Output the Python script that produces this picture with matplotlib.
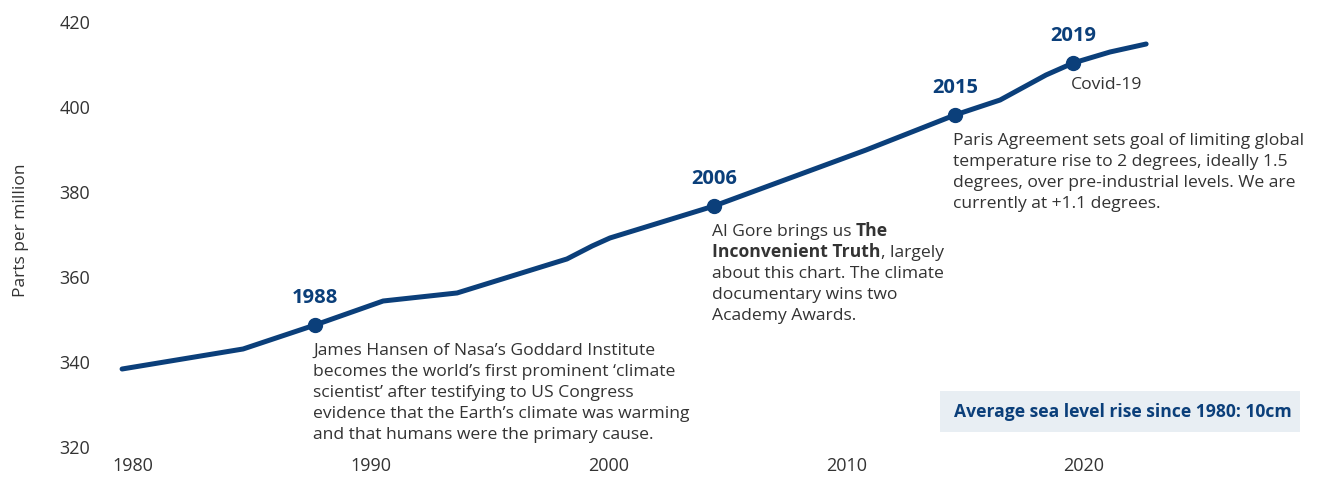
import matplotlib.pyplot as plt
from matplotlib.patches import Rectangle

# CO2 concentration
years = [1979.54, 1984.63, 1987.66, 1990.52, 1993.63, 1998.25, 1999.31, 2000.06,
         2004.44, 2010.83, 2014.57, 2016.47, 2018.40, 2019.54, 2021.09, 2022.61]
ppm = [338.35, 343.06, 348.71, 354.35, 356.24, 364.24, 367.29, 369.18,
       376.71, 389.88, 398.12, 401.65, 407.53, 410.35, 412.94, 414.82]

# highlighted events
event_x = [1987.66, 2004.44, 2014.57, 2019.54]
event_y = [348.71, 376.71, 398.12, 410.35]
event_labels = ["1988", "2006", "2015", "2019"]
event_notes = [
    "James Hansen of Nasa\u2019s Goddard Institute\nbecomes the world\u2019s first prominent \u2018climate\n"
    "scientist\u2019 after testifying to US Congress\nevidence that the Earth\u2019s climate was warming\n"
    "and that humans were the primary cause.",
    None,
    "Paris Agreement sets goal of limiting global\ntemperature rise to 2 degrees, ideally 1.5\n"
    "degrees, over pre-industrial levels. We are\ncurrently at +1.1 degrees.",
    "Covid-19",
]

x_ticks = [1980, 1990, 2000, 2010, 2020]
y_ticks = [320, 340, 360, 380, 400, 420]

navy = "#0b3f7a"
grey = "#333333"
plt.rcParams["font.family"] = ["Open Sans", "DejaVu Sans"]
fs = 12.6
pitch = 15.1  # points between note lines

fig = plt.figure(figsize=(13.3, 4.97), dpi=100)
ax = fig.add_axes([0.0752, 0.0946, 0.9023, 0.8853])

ax.plot(years, ppm, color=navy, lw=3.6, solid_capstyle="round", solid_joinstyle="round")
ax.plot(event_x, event_y, "o", color=navy, ms=10)

for x, y, lab in zip(event_x, event_y, event_labels):
    ax.annotate(lab, (x, y), xytext=(0, 12), textcoords="offset points",
                ha="center", va="bottom", fontsize=14.5, fontweight="bold", color=navy)

fig.canvas.draw()
r = fig.canvas.get_renderer()


def note_lines(x, y, lines, first=-21.5):
    # each line is a list of (text, weight) parts
    for i, parts in enumerate(lines):
        dx = -1.5
        for txt, w in parts:
            t = ax.annotate(txt, (x, y), xytext=(dx, first - i * pitch),
                            textcoords="offset points", ha="left", va="baseline",
                            fontsize=fs, color=grey, fontweight=w)
            dx += t.get_window_extent(r).width * 72 / fig.dpi


for x, y, note in zip(event_x, event_y, event_notes):
    if note is None:
        continue
    note_lines(x, y, [[(s, "normal")] for s in note.split("\n")],
               first=-18.5 if note == "Covid-19" else -21.5)

# the 2006 note has a bold part
gore_lines = [
    [("Al Gore brings us ", "normal"), ("The", "bold")],
    [("Inconvenient Truth", "bold"), (", largely", "normal")],
    [("about this chart. The climate", "normal")],
    [("documentary wins two", "normal")],
    [("Academy Awards.", "normal")],
]
note_lines(event_x[1], event_y[1], gore_lines)

ax.add_patch(Rectangle((0.7, 0.04), 0.306, 0.093, transform=ax.transAxes,
                       facecolor="#e8eef3", edgecolor="none"))
ax.text(0.712, 0.0865, "Average sea level rise since 1980: 10cm", transform=ax.transAxes,
        ha="left", va="center", fontsize=12.6, fontweight="bold", color=navy)

ax.set_xlim(1978.612, 2029.085)
ax.set_ylim(319.294, 422.824)
ax.set_xticks(x_ticks)
ax.set_yticks(y_ticks)
ax.tick_params(length=0, labelsize=13, colors=grey)
ax.tick_params(axis="y", pad=7)
ax.tick_params(axis="x", pad=5)
ax.set_ylabel("Parts per million", fontsize=12.5, color=grey, labelpad=22)
for s in ax.spines.values():
    s.set_visible(False)

fig.savefig("out.png", dpi=100)
